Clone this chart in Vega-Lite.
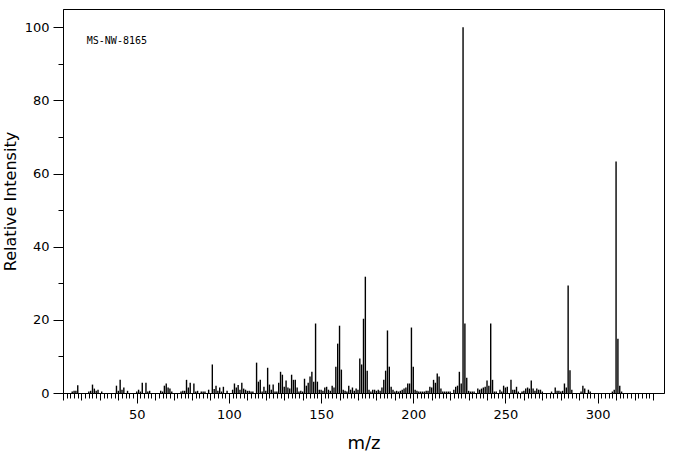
{
  "$schema": "https://vega.github.io/schema/vega-lite/v6.json",
  "width": 601,
  "height": 384,
  "autosize": {"type": "none"},
  "padding": {"left": 63, "top": 9, "right": 12, "bottom": 62},
  "background": "white",
  "config": {
    "view": {"stroke": "black", "strokeWidth": 1},
    "axis": {"domainColor": "black", "tickColor": "black", "labelColor": "black", "titleColor": "black", "labelFont": "DejaVu Sans", "titleFont": "DejaVu Sans", "grid": false, "tickWidth": 1, "domainWidth": 1}
  },
  "datasets": {
    "peaks": [
      {"mz":15,"ri":0.4},{"mz":16,"ri":0.6},{"mz":17,"ri":0.6},{"mz":18,"ri":2.1},{"mz":24,"ri":0.4},{"mz":25,"ri":0.6},{"mz":26,"ri":2.3},{"mz":27,"ri":1.2},{"mz":28,"ri":0.6},{"mz":29,"ri":0.9},{"mz":31,"ri":0.4},
      {"mz":39,"ri":2.0},{"mz":40,"ri":0.6},{"mz":41,"ri":3.6},{"mz":42,"ri":0.9},{"mz":43,"ri":1.5},{"mz":45,"ri":0.6},{"mz":50,"ri":0.4},{"mz":51,"ri":0.9},{"mz":52,"ri":0.4},{"mz":53,"ri":2.8},{"mz":55,"ri":2.8},{"mz":56,"ri":0.4},{"mz":57,"ri":0.6},
      {"mz":63,"ri":0.6},{"mz":64,"ri":0.4},{"mz":65,"ri":2.0},{"mz":66,"ri":2.6},{"mz":67,"ri":1.5},{"mz":68,"ri":1.2},{"mz":69,"ri":0.4},{"mz":74,"ri":0.4},{"mz":75,"ri":0.6},{"mz":76,"ri":0.6},{"mz":77,"ri":3.6},{"mz":78,"ri":1.5},{"mz":79,"ri":2.8},{"mz":81,"ri":2.6},{"mz":82,"ri":0.4},{"mz":83,"ri":0.6},{"mz":85,"ri":0.4},{"mz":86,"ri":0.4},{"mz":87,"ri":0.4},{"mz":89,"ri":0.9},
      {"mz":91,"ri":7.8},{"mz":92,"ri":1.1},{"mz":93,"ri":2.0},{"mz":94,"ri":0.6},{"mz":95,"ri":1.5},{"mz":96,"ri":0.4},{"mz":97,"ri":1.7},{"mz":99,"ri":0.6},{"mz":102,"ri":0.9},{"mz":103,"ri":2.6},{"mz":104,"ri":1.5},{"mz":105,"ri":2.2},{"mz":106,"ri":0.9},{"mz":107,"ri":2.8},{"mz":108,"ri":1.2},{"mz":109,"ri":0.9},{"mz":110,"ri":0.6},{"mz":111,"ri":0.6},{"mz":112,"ri":0.4},{"mz":113,"ri":0.4},
      {"mz":115,"ri":8.3},{"mz":116,"ri":3.1},{"mz":117,"ri":3.6},{"mz":118,"ri":0.4},{"mz":119,"ri":1.7},{"mz":120,"ri":0.6},{"mz":121,"ri":6.9},{"mz":122,"ri":2.3},{"mz":123,"ri":0.9},{"mz":124,"ri":2.3},{"mz":125,"ri":0.4},{"mz":126,"ri":0.4},{"mz":127,"ri":2.8},{"mz":128,"ri":5.8},{"mz":129,"ri":5.0},{"mz":130,"ri":1.7},{"mz":131,"ri":3.4},{"mz":132,"ri":1.5},{"mz":133,"ri":1.2},{"mz":134,"ri":5.0},{"mz":135,"ri":3.6},{"mz":136,"ri":3.6},{"mz":137,"ri":1.5},{"mz":138,"ri":0.4},{"mz":139,"ri":0.6},{"mz":140,"ri":0.4},
      {"mz":141,"ri":3.9},{"mz":142,"ri":2.0},{"mz":143,"ri":2.8},{"mz":144,"ri":4.5},{"mz":145,"ri":5.8},{"mz":146,"ri":3.1},{"mz":147,"ri":19.0},{"mz":148,"ri":3.1},{"mz":149,"ri":0.9},{"mz":150,"ri":0.9},{"mz":151,"ri":0.6},{"mz":152,"ri":1.5},{"mz":153,"ri":1.7},{"mz":154,"ri":0.9},{"mz":155,"ri":0.6},{"mz":156,"ri":2.0},{"mz":157,"ri":1.5},{"mz":158,"ri":7.2},{"mz":159,"ri":13.5},{"mz":160,"ri":18.4},
      {"mz":161,"ri":6.4},{"mz":162,"ri":0.9},{"mz":163,"ri":0.6},{"mz":164,"ri":0.4},{"mz":165,"ri":2.0},{"mz":166,"ri":0.9},{"mz":167,"ri":1.5},{"mz":168,"ri":0.6},{"mz":169,"ri":1.2},{"mz":170,"ri":0.9},{"mz":171,"ri":9.4},{"mz":172,"ri":7.8},{"mz":173,"ri":20.3},{"mz":174,"ri":31.8},{"mz":175,"ri":6.1},{"mz":176,"ri":0.9},{"mz":177,"ri":0.4},{"mz":178,"ri":0.9},{"mz":179,"ri":0.9},{"mz":180,"ri":0.6},
      {"mz":181,"ri":0.9},{"mz":182,"ri":0.6},{"mz":183,"ri":1.5},{"mz":184,"ri":3.6},{"mz":185,"ri":6.1},{"mz":186,"ri":17.1},{"mz":187,"ri":7.2},{"mz":188,"ri":1.7},{"mz":189,"ri":0.9},{"mz":190,"ri":0.4},{"mz":191,"ri":0.6},{"mz":192,"ri":0.4},{"mz":193,"ri":0.6},{"mz":194,"ri":0.9},{"mz":195,"ri":1.2},{"mz":196,"ri":1.5},{"mz":197,"ri":2.6},{"mz":198,"ri":2.6},{"mz":199,"ri":17.9},{"mz":200,"ri":7.2},
      {"mz":201,"ri":0.9},{"mz":202,"ri":0.6},{"mz":203,"ri":0.4},{"mz":204,"ri":0.4},{"mz":205,"ri":0.4},{"mz":206,"ri":0.4},{"mz":207,"ri":0.6},{"mz":208,"ri":0.6},{"mz":209,"ri":1.7},{"mz":210,"ri":1.5},{"mz":211,"ri":3.6},{"mz":212,"ri":2.8},{"mz":213,"ri":5.3},{"mz":214,"ri":4.5},{"mz":215,"ri":1.2},{"mz":216,"ri":0.4},{"mz":217,"ri":0.4},{"mz":218,"ri":0.4},{"mz":219,"ri":0.4},{"mz":220,"ri":0.4},
      {"mz":222,"ri":0.9},{"mz":223,"ri":1.7},{"mz":224,"ri":2.0},{"mz":225,"ri":5.8},{"mz":226,"ri":2.6},{"mz":227,"ri":100},{"mz":228,"ri":19.0},{"mz":229,"ri":4.2},{"mz":230,"ri":0.6},{"mz":231,"ri":0.4},{"mz":232,"ri":0.4},{"mz":233,"ri":0.4},{"mz":235,"ri":1.2},{"mz":236,"ri":0.9},{"mz":237,"ri":1.2},{"mz":238,"ri":1.5},{"mz":239,"ri":1.7},{"mz":240,"ri":3.4},
      {"mz":241,"ri":2.0},{"mz":242,"ri":19.0},{"mz":243,"ri":3.6},{"mz":244,"ri":0.4},{"mz":245,"ri":0.4},{"mz":247,"ri":0.9},{"mz":248,"ri":0.4},{"mz":249,"ri":2.0},{"mz":250,"ri":1.5},{"mz":251,"ri":1.7},{"mz":253,"ri":3.6},{"mz":254,"ri":0.9},{"mz":255,"ri":0.9},{"mz":256,"ri":1.7},{"mz":257,"ri":0.4},{"mz":259,"ri":0.4},{"mz":260,"ri":0.6},
      {"mz":261,"ri":1.2},{"mz":262,"ri":1.5},{"mz":263,"ri":1.2},{"mz":264,"ri":3.4},{"mz":265,"ri":1.2},{"mz":266,"ri":0.6},{"mz":267,"ri":1.2},{"mz":268,"ri":0.9},{"mz":269,"ri":0.9},{"mz":270,"ri":0.4},{"mz":275,"ri":0.4},{"mz":277,"ri":1.5},{"mz":278,"ri":0.6},{"mz":279,"ri":0.6},{"mz":280,"ri":0.4},
      {"mz":281,"ri":0.6},{"mz":282,"ri":2.6},{"mz":283,"ri":1.5},{"mz":284,"ri":29.4},{"mz":285,"ri":6.2},{"mz":286,"ri":0.9},{"mz":291,"ri":0.4},{"mz":292,"ri":2.0},{"mz":293,"ri":1.2},{"mz":295,"ri":0.9},{"mz":296,"ri":0.4},{"mz":308,"ri":0.4},{"mz":309,"ri":0.9},{"mz":310,"ri":63.3},{"mz":311,"ri":14.8},{"mz":312,"ri":2.0},{"mz":313,"ri":0.4}
    ],
    "note": [{"label": "MS-NW-8165", "mz": 22.9, "ri": 96.3}]
  },
  "layer": [
    {
      "data": {"name": "peaks"},
      "mark": {"type": "rule", "color": "black", "strokeWidth": 1.4},
      "encoding": {
        "x": {
          "field": "mz", "type": "quantitative",
          "scale": {"domain": [10, 336], "nice": false, "zero": false},
          "axis": {
            "title": "m/z", "titleFontSize": 18, "titleFontWeight": "normal", "titlePadding": 13,
            "tickCount": 1000, "format": "d",
            "values": [10,12,14,16,18,20,22,24,26,28,30,32,34,36,38,40,42,44,46,48,50,52,54,56,58,60,62,64,66,68,70,72,74,76,78,80,82,84,86,88,90,92,94,96,98,100,102,104,106,108,110,112,114,116,118,120,122,124,126,128,130,132,134,136,138,140,142,144,146,148,150,152,154,156,158,160,162,164,166,168,170,172,174,176,178,180,182,184,186,188,190,192,194,196,198,200,202,204,206,208,210,212,214,216,218,220,222,224,226,228,230,232,234,236,238,240,242,244,246,248,250,252,254,256,258,260,262,264,266,268,270,272,274,276,278,280,282,284,286,288,290,292,294,296,298,300,302,304,306,308,310,312,314,316,318,320,322,324,326,328,330],
            "labelExpr": "datum.value % 50 === 0 ? datum.label : ''",
            "labelOverlap": false, "labelBound": false, "labelFlush": false,
            "labelFontSize": 13, "labelPadding": 5,
            "tickSize": {"condition": [{"test": "datum.value % 50 === 0", "value": 10}, {"test": "datum.value % 10 === 0", "value": 7}], "value": 5}
          }
        },
        "y": {
          "field": "ri", "type": "quantitative",
          "scale": {"domain": [0, 105], "nice": false, "zero": true},
          "axis": {
            "title": "Relative Intensity", "titleFontSize": 16, "titleFontWeight": "normal", "titlePadding": 6,
            "tickCount": 1000, "format": "d",
            "values": [0,10,20,30,40,50,60,70,80,90,100],
            "labelExpr": "datum.value % 20 === 0 ? datum.label : ''",
            "labelOverlap": false, "labelBound": false, "labelFlush": false,
            "labelFontSize": 13, "labelPadding": 4,
            "tickSize": {"condition": {"test": "datum.value % 20 === 0", "value": 10}, "value": 5}
          }
        },
        "y2": {"datum": 0}
      }
    },
    {
      "data": {"name": "note"},
      "mark": {"type": "text", "font": "DejaVu Sans Mono", "fontSize": 10, "align": "left", "baseline": "middle", "color": "black"},
      "encoding": {
        "x": {"field": "mz", "type": "quantitative"},
        "y": {"field": "ri", "type": "quantitative"},
        "text": {"field": "label"}
      }
    }
  ]
}
